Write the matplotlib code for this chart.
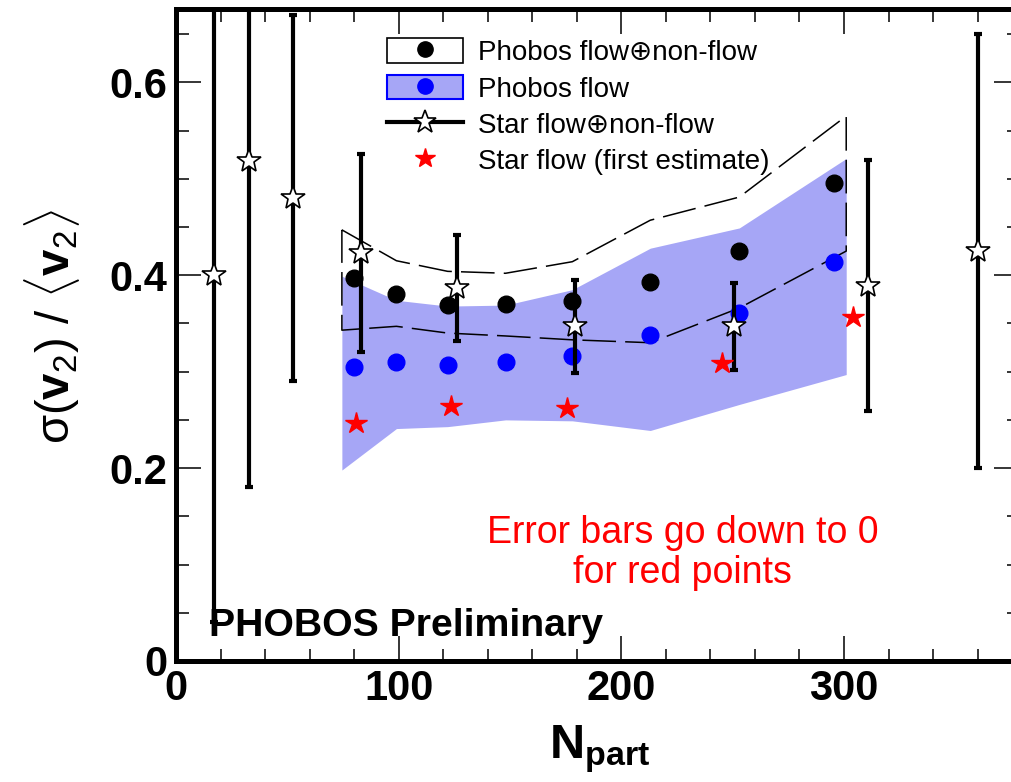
import matplotlib
matplotlib.use("Agg")
import numpy as np
import matplotlib.pyplot as plt
from matplotlib.patches import Patch
from matplotlib.lines import Line2D
from matplotlib.ticker import MultipleLocator, FuncFormatter

plt.rcParams['font.family'] = ['Liberation Sans', 'DejaVu Sans']
plt.rcParams['mathtext.fontset'] = 'custom'
plt.rcParams['mathtext.rm'] = 'Liberation Sans'
plt.rcParams['mathtext.bf'] = 'Liberation Sans:bold'
plt.rcParams['mathtext.it'] = 'Liberation Sans:italic'

# PHOBOS points
phobos_npart = [80, 99, 122, 148, 178, 213, 253, 295.5]
phobos_total = [0.397, 0.381, 0.369, 0.370, 0.373, 0.393, 0.425, 0.496]
phobos_flow = [0.305, 0.310, 0.307, 0.310, 0.316, 0.338, 0.361, 0.414]

# PHOBOS systematic bands
band_npart = [74.5, 99, 122, 148, 178, 213, 253, 301]
flow_band_low = [0.198, 0.241, 0.243, 0.250, 0.249, 0.239, 0.266, 0.297]
flow_band_high = [0.399, 0.374, 0.368, 0.369, 0.385, 0.428, 0.449, 0.521]
total_band_low = [0.343, 0.347, 0.340, 0.337, 0.333, 0.330, 0.366, 0.425]
total_band_high = [0.447, 0.415, 0.404, 0.402, 0.414, 0.457, 0.481, 0.565]

# STAR flow + non-flow
star_npart = [17, 33, 52.5, 83, 126, 179, 250.5, 311, 360]
star_total = [0.400, 0.518, 0.480, 0.423, 0.387, 0.347, 0.347, 0.389, 0.425]
star_err = [0.360, 0.338, 0.190, 0.103, 0.055, 0.048, 0.045, 0.130, 0.225]

# STAR flow (first estimate)
star_flow_npart = [81, 123.5, 175.5, 245, 304]
star_flow = [0.247, 0.264, 0.262, 0.309, 0.357]

legend_labels = ['Phobos flow\u2295non-flow', 'Phobos flow',
                 'Star flow\u2295non-flow', 'Star flow (first estimate)']

band_color = '#a6a6f6'

W, H = 1011, 782
fig = plt.figure(figsize=(W / 100, H / 100), dpi=100)
x0, x1, y0, y1 = 176, 1019, 661, 9
ax = fig.add_axes([x0 / W, 1 - y0 / H, (x1 - x0) / W, (y0 - y1) / H])

ax.set_xlim(0, 378.6)
ax.set_ylim(0, 0.676)

# flow band
ax.fill_between(band_npart, flow_band_low, flow_band_high, color=band_color,
                lw=0, zorder=1)
# flow + non-flow band outline
bx = np.concatenate([band_npart, band_npart[::-1], band_npart[:1]])
by = np.concatenate([total_band_high, total_band_low[::-1], total_band_high[:1]])
ax.plot(bx, by, color='k', lw=1.1, ls=(0, (22, 6)), zorder=2)

ax.plot(phobos_npart, phobos_flow, ls='none', marker='o', color='blue',
        ms=12, zorder=3)
ax.plot(phobos_npart, phobos_total, ls='none', marker='o', color='black',
        ms=12, zorder=3)

ax.errorbar(star_npart, star_total, yerr=star_err, fmt='none', ecolor='k',
            elinewidth=3, capsize=3, capthick=3, zorder=4)
ax.plot(star_npart, star_total, ls='none', marker='*', ms=18, mfc='white',
        mec='k', mew=1.2, zorder=5)
ax.plot(star_flow_npart, star_flow, ls='none', marker='*', ms=16, color='red',
        mec='red', zorder=6)

# axes styling
for s in ax.spines.values():
    s.set_linewidth(3.6)
ax.xaxis.set_major_locator(MultipleLocator(100))
ax.xaxis.set_minor_locator(MultipleLocator(20))
ax.yaxis.set_major_locator(MultipleLocator(0.2))
ax.yaxis.set_minor_locator(MultipleLocator(0.05))
ax.yaxis.set_major_formatter(FuncFormatter(lambda v, p: f'{v:g}'))
ax.tick_params(which='both', direction='in', top=True, right=True,
               width=1.1, colors='k')
ax.tick_params(which='major', length=18, labelsize=30, pad=6)
ax.tick_params(which='minor', length=9)
for lab in ax.get_xticklabels() + ax.get_yticklabels():
    lab.set_fontweight('bold')

ax.set_xlabel(r'$\mathbf{N}_{\mathbf{part}}$', fontsize=35)
ax.xaxis.set_label_coords(0.503, -0.095)
ax.set_ylabel(r'$\mathrm{\sigma}(\mathbf{v}_{2})\ /\ \langle\mathbf{v}_{2}\rangle$',
              fontsize=34)
ax.yaxis.set_label_coords(-0.112, 0.512)

ax.text(0.039, 0.038, 'PHOBOS Preliminary', transform=ax.transAxes,
        fontsize=28.3, fontweight='bold', va='baseline', ha='left')
ax.text(0.601, 0.120, 'Error bars go down to 0\nfor red points',
        transform=ax.transAxes, fontsize=27, color='red', ha='center',
        va='baseline', multialignment='center', linespacing=1.12)

h1 = (Patch(facecolor='white', edgecolor='k', lw=1.2),
      Line2D([], [], ls='none', marker='o', color='k', ms=11))
h2 = (Patch(facecolor=band_color, edgecolor='blue', lw=1.5),
      Line2D([], [], ls='none', marker='o', color='blue', ms=11))
h3 = Line2D([], [], color='k', lw=3, marker='*', mfc='white', mec='k',
            ms=17, mew=1.2)
h4 = Line2D([], [], ls='none', marker='*', color='red', ms=15)
ax.legend([h1, h2, h3, h4], legend_labels, loc='upper left',
          bbox_to_anchor=(0.250, 0.955), frameon=False, fontsize=20,
          handlelength=2.75, handleheight=1.0, handletextpad=0.55,
          labelspacing=0.3, borderpad=0, borderaxespad=0)

fig.savefig('out.png', dpi=100)
